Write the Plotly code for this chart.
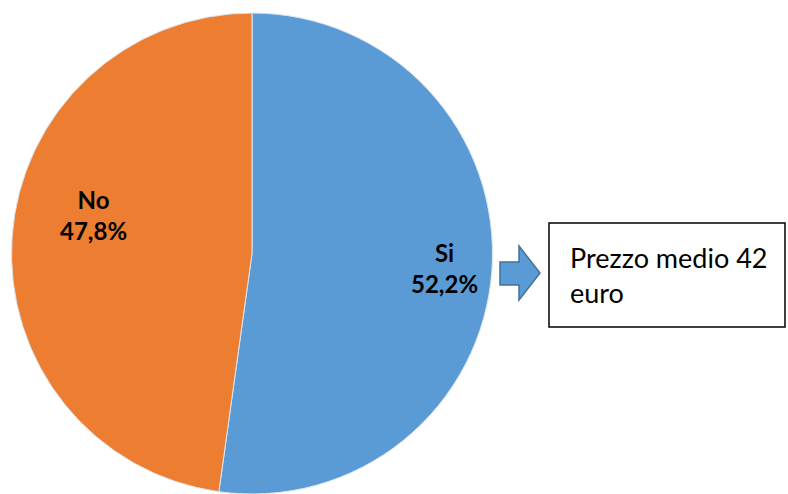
import plotly.graph_objects as go

labels = ["Si", "No"]
values = [52.2, 47.8]
value_text = ["52,2%", "47,8%"]
colors = ["#5B9BD5", "#ED7D31"]
box_text = "Prezzo medio 42<br>euro"

W, H = 788, 494

def px(x):
    return x / W

def py(y):
    return (H - y) / H

fig = go.Figure()
fig.add_trace(go.Pie(
    labels=labels, values=values, sort=False, direction="clockwise", rotation=0,
    marker=dict(colors=colors, line=dict(color="#DDE6F0", width=1)),
    textinfo="none", hoverinfo="label+percent", showlegend=False,
    domain=dict(x=[px(10), px(494)], y=[0, py(13)]),
))

label_pos = [(444, 268), (58, 215)]
for lab, vt, (x, y) in zip(labels, value_text, label_pos):
    fig.add_annotation(x=px(x), y=py(y), xref="paper", yref="paper",
                       text=f"<b>{lab}<br>{vt}</b>", showarrow=False,
                       font=dict(family="Lato, Carlito, sans-serif", size=24, color="#000000"),
                       align="center")

# block arrow
pts = [(500, 262), (519, 262), (519, 246), (540, 273), (519, 300), (519, 285), (500, 285)]
path = "M " + " L ".join(f"{px(x)},{py(y)}" for x, y in pts) + " Z"
fig.add_shape(type="path", path=path, xref="paper", yref="paper",
              fillcolor="#5B9BD5", line=dict(color="#41719C", width=1.5))

# text box
fig.add_shape(type="rect", xref="paper", yref="paper",
              x0=px(549), x1=px(785), y0=py(327), y1=py(223),
              line=dict(color="#000000", width=1.5), fillcolor="#FFFFFF")
fig.add_annotation(x=px(568), y=py(275), xref="paper", yref="paper",
                   text=box_text, showarrow=False, xanchor="left", yanchor="middle",
                   align="left",
                   font=dict(family="Lato, Carlito, sans-serif", size=27, color="#000000"))

fig.update_layout(width=W, height=H, margin=dict(l=0, r=0, t=0, b=0),
                  paper_bgcolor="#FFFFFF", plot_bgcolor="#FFFFFF")
fig.write_html("out.html", config={"displayModeBar": False},
               post_script="document.body.style.margin='0';")
